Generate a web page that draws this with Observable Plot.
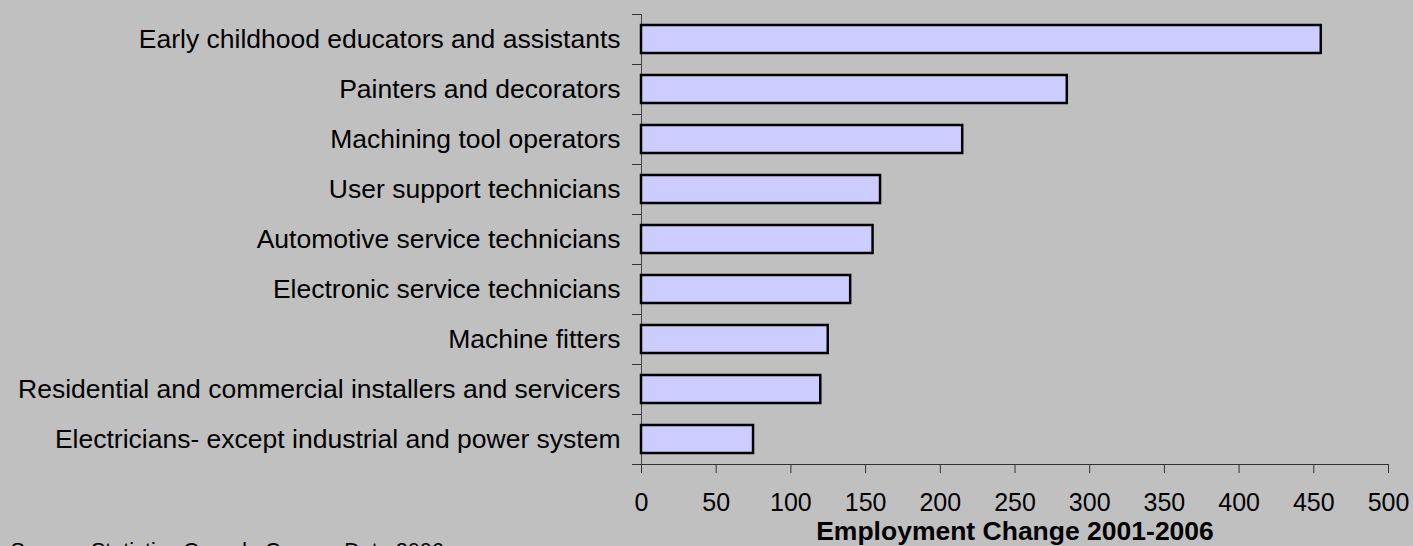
<!DOCTYPE html>
<html>
<head>
<meta charset="utf-8">
<script src="https://cdn.jsdelivr.net/npm/d3@7"></script>
<script src="https://cdn.jsdelivr.net/npm/@observablehq/plot@0.6"></script>
<style>
  html, body { margin: 0; padding: 0; background: #C0C0C0; }
  #wrap { position: relative; width: 1413px; height: 546px; overflow: hidden; }
  #border { position: absolute; left: 6px; top: 0; width: 1px; height: 546px; background: #555; }
</style>
</head>
<body>
<div id="wrap"><div id="border"></div></div>
<script>
const categories = [
  "Early childhood educators and assistants",
  "Painters and decorators",
  "Machining tool operators",
  "User support technicians",
  "Automotive service technicians",
  "Electronic service technicians",
  "Machine fitters",
  "Residential and commercial installers and servicers",
  "Electricians- except industrial and power system"
];
const values = [455, 285, 215, 160, 155, 140, 125, 120, 75];
const xTicks = [0, 50, 100, 150, 200, 250, 300, 350, 400, 450, 500];
const xLabel = "Employment Change 2001-2006";
const source = "Source: Statistics Canada Census Data 2006";

const data = categories.map((c, i) => ({category: c, value: values[i]}));

const chart = Plot.plot({
  width: 1413,
  height: 546,
  marginLeft: 641,
  marginRight: 25,
  marginTop: 14,
  marginBottom: 82,
  style: {background: "#C0C0C0", fontFamily: "'Liberation Sans', Arial, sans-serif", color: "#000", overflow: "visible"},
  x: {domain: [0, 500], ticks: xTicks},
  y: {domain: categories, paddingInner: 0.44, paddingOuter: 0.22},
  marks: [
    Plot.frame({anchor: "left", stroke: "#444"}),
    Plot.frame({anchor: "bottom", stroke: "#333", insetLeft: -9}),
    Plot.axisY({tickSize: 9, dy: -25, tickFormat: () => "", label: null, stroke: "#333"}),
    Plot.axisY({tickSize: 0, tickPadding: 21, fontSize: 26.5, label: null}),
    Plot.axisX({ticks: xTicks, tickSize: 9, tickPadding: 20, fontSize: 25, label: null, stroke: "#333"}),
    Plot.barX(data, {x: "value", y: "category", fill: "#CCCCFF", stroke: "#000", strokeWidth: 2.5}),
    Plot.text([xLabel], {frameAnchor: "bottom", dy: 75, fontWeight: "bold", fontSize: 26.5}),
    Plot.text([source], {frameAnchor: "bottom-left", dx: -631, dy: 78, lineAnchor: "top", textAnchor: "start", fontSize: 21.6})
  ]
});
document.getElementById("wrap").appendChild(chart);
chart.style.position = "absolute";
chart.style.left = "0";
chart.style.top = "0";
</script>
</body>
</html>
